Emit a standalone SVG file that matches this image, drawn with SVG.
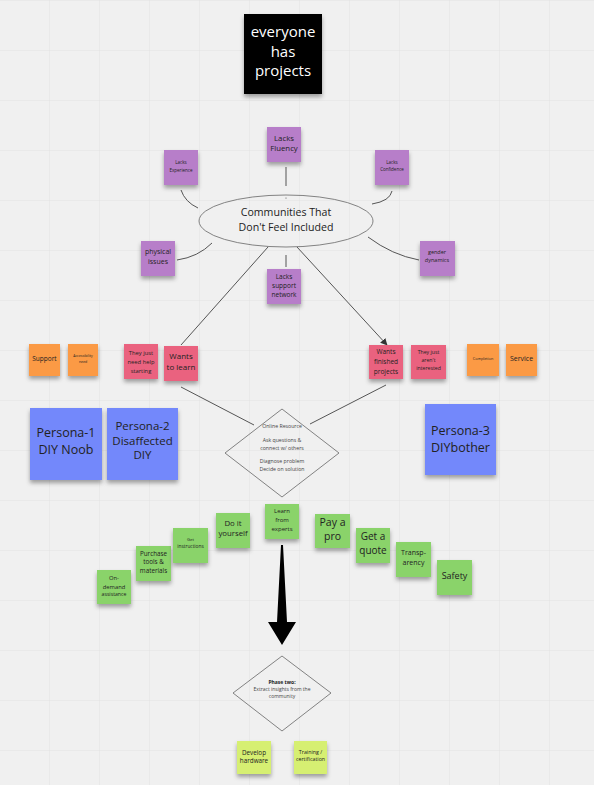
<svg xmlns="http://www.w3.org/2000/svg" width="594" height="785" viewBox="0 0 594 785">
<defs>
<pattern id="grid" x="-1" y="0" width="50" height="50" patternUnits="userSpaceOnUse">
<path d="M0 0H50M0 0V50" fill="none" stroke="#e1e1e1" stroke-width="1"/>
</pattern>
<filter id="sh" x="-20%" y="-20%" width="140%" height="160%">
<feDropShadow dx="0" dy="3" stdDeviation="2" flood-color="#000" flood-opacity="0.35"/>
</filter>
<marker id="ah" viewBox="0 0 10 10" refX="9" refY="5" markerWidth="7" markerHeight="7" orient="auto">
<path d="M0 0L10 5L0 10z" fill="#333"/>
</marker>
</defs>
<style>
text{font-family:"Open Sans","Noto Sans","Liberation Sans",sans-serif;fill:#222;text-anchor:middle;dominant-baseline:middle}
.purple{fill:#b77ec9;filter:url(#sh)}
.orange{fill:#fb9a44;filter:url(#sh)}
.pink{fill:#ea627f;filter:url(#sh)}
.blue{fill:#7388fb;filter:url(#sh)}
.green{fill:#8ad36b;filter:url(#sh)}
.lime{fill:#d6ef72;filter:url(#sh)}
.black{fill:#050505;filter:url(#sh)}
.shape{fill:none;stroke:#666;stroke-width:0.8}
.conn{fill:none;stroke:#555;stroke-width:1}
</style>
<rect width="594" height="785" fill="#f0f0f0"/>
<rect width="594" height="785" fill="url(#grid)"/>

<g id="connectors">
<line class="conn" x1="286" y1="167" x2="286" y2="186"/>
<circle cx="286" cy="198" r="0.6" fill="#555"/>
<path class="conn" d="M181 190 Q185 202 198 208"/>
<path class="conn" d="M392 191 Q390 201 372 204"/>
<path class="conn" d="M177 260 Q198 257 212 243"/>
<path class="conn" d="M368 237 Q392 255 419 260"/>
<line class="conn" x1="286" y1="255" x2="286" y2="267"/>
<line class="conn" x1="268" y1="247" x2="181" y2="345"/>
<line class="conn" x1="297" y1="247" x2="387" y2="345" marker-end="url(#ah)"/>
<line class="conn" x1="181" y1="387" x2="254" y2="425"/>
<line class="conn" x1="386" y1="385" x2="310" y2="424"/>
<polygon points="281,545 283,545 287,622 296,622 282,645 268,622 277,622" fill="#000"/>
</g>

<g id="everyone">
<rect class="black" x="244" y="14" width="78" height="80"/>
<text x="283" y="33" font-size="15" style="fill:#fff">everyone</text>
<text x="283" y="53" font-size="15" style="fill:#fff">has</text>
<text x="283" y="72" font-size="15" style="fill:#fff">projects</text>
</g>

<g id="communities">
<ellipse class="shape" cx="286" cy="221" rx="87" ry="26"/>
<text x="286" y="213" font-size="10.6">Communities That</text>
<text x="286" y="228" font-size="10.6">Don't Feel Included</text>
</g>

<g id="lacks-fluency">
<rect class="purple" x="267" y="127" width="34" height="35"/>
<text x="284" y="139" font-size="7.8">Lacks</text>
<text x="284" y="149" font-size="7.8">Fluency</text>
</g>
<g id="lacks-experience">
<rect class="purple" x="164" y="150" width="34" height="35"/>
<text x="181" y="163" font-size="4.5">Lacks</text>
<text x="181" y="171" font-size="4.5">Experience</text>
</g>
<g id="lacks-confidence">
<rect class="purple" x="375" y="150" width="34" height="35"/>
<text x="392" y="163" font-size="4.5">Lacks</text>
<text x="392" y="170" font-size="4.5">Confidence</text>
</g>
<g id="physical-issues">
<rect class="purple" x="141" y="241" width="34" height="35"/>
<text x="158" y="252" font-size="7">physical</text>
<text x="158" y="262" font-size="7">issues</text>
</g>
<g id="gender-dynamics">
<rect class="purple" x="420" y="241" width="35" height="35"/>
<text x="437" y="253" font-size="5.5">gender</text>
<text x="437" y="261" font-size="5.5">dynamics</text>
</g>
<g id="lacks-support">
<rect class="purple" x="267" y="269" width="34" height="35"/>
<text x="284" y="277" font-size="6.5">Lacks</text>
<text x="284" y="286" font-size="6.5">support</text>
<text x="284" y="295" font-size="6.5">network</text>
</g>

<g id="support">
<rect class="orange" x="29" y="344" width="31" height="32"/>
<text x="44.5" y="359" font-size="6.5">Support</text>
</g>
<g id="accessibility">
<rect class="orange" x="68" y="344" width="30" height="32"/>
<text x="83" y="356" font-size="3.5">Accessibility</text>
<text x="83" y="362" font-size="3.5">need</text>
</g>
<g id="completion">
<rect class="orange" x="467" y="344" width="32" height="32"/>
<text x="483" y="359" font-size="3.8">Completion</text>
</g>
<g id="service">
<rect class="orange" x="506" y="344" width="31" height="32"/>
<text x="521.5" y="359" font-size="7">Service</text>
</g>

<g id="need-help">
<rect class="pink" x="124" y="344" width="34" height="35"/>
<text x="141" y="353" font-size="5.8">They just</text>
<text x="141" y="362" font-size="5.8">need help</text>
<text x="141" y="371" font-size="5.8">starting</text>
</g>
<g id="wants-learn">
<rect class="pink" x="164" y="346" width="34" height="35"/>
<text x="181" y="357" font-size="8">Wants</text>
<text x="181" y="368" font-size="8">to learn</text>
</g>
<g id="wants-finished">
<rect class="pink" x="369" y="345" width="34" height="34"/>
<text x="386" y="352" font-size="6.5">Wants</text>
<text x="386" y="362" font-size="6.5">finished</text>
<text x="386" y="372" font-size="6.5">projects</text>
</g>
<g id="not-interested">
<rect class="pink" x="411" y="345" width="35" height="34"/>
<text x="428.5" y="353" font-size="5.2">They just</text>
<text x="428.5" y="361" font-size="5.2">aren't</text>
<text x="428.5" y="369" font-size="5.2">interested</text>
</g>

<g id="persona-1">
<rect class="blue" x="30" y="408" width="72" height="72"/>
<text x="66" y="434" font-size="12.5">Persona-1</text>
<text x="66" y="451" font-size="12.5">DIY Noob</text>
</g>
<g id="persona-2">
<rect class="blue" x="107" y="408" width="71" height="72"/>
<text x="142.5" y="427" font-size="11.5">Persona-2</text>
<text x="142.5" y="442" font-size="11.5">Disaffected</text>
<text x="142.5" y="456" font-size="11.5">DIY</text>
</g>
<g id="persona-3">
<rect class="blue" x="425" y="404" width="71" height="71"/>
<text x="460.5" y="432" font-size="12.5">Persona-3</text>
<text x="460.5" y="449" font-size="12.5">DIYbother</text>
</g>

<g id="online-resource">
<polygon class="shape" points="282,409 339,453 282,497 225,453"/>
<text x="282" y="427" font-size="5.2" style="fill:#444">Online Resource</text>
<text x="282" y="441" font-size="5.2" style="fill:#444">Ask questions &amp;</text>
<text x="282" y="449" font-size="5.2" style="fill:#444">connect w/ others</text>
<text x="282" y="462" font-size="5.2" style="fill:#444">Diagnose problem</text>
<text x="282" y="470" font-size="5.2" style="fill:#444">Decide on solution</text>
</g>

<g id="on-demand">
<rect class="green" x="97" y="570" width="34" height="34"/>
<text x="114" y="578" font-size="5.8">On-</text>
<text x="114" y="587" font-size="5.8">demand</text>
<text x="114" y="595" font-size="5.2">assistance</text>
</g>
<g id="purchase">
<rect class="green" x="136" y="546" width="35" height="35"/>
<text x="153.5" y="554" font-size="6.3">Purchase</text>
<text x="153.5" y="562" font-size="6.3">tools &amp;</text>
<text x="153.5" y="571" font-size="6.3">materials</text>
</g>
<g id="get-instructions">
<rect class="green" x="173" y="528" width="35" height="35"/>
<text x="190.5" y="540" font-size="4.2">Get</text>
<text x="190.5" y="547" font-size="4.8">instructions</text>
</g>
<g id="do-it">
<rect class="green" x="216" y="513" width="34" height="35"/>
<text x="233" y="524" font-size="7.8">Do it</text>
<text x="233" y="534" font-size="7.8">yourself</text>
</g>
<g id="learn-experts">
<rect class="green" x="265" y="504" width="34" height="35"/>
<text x="282" y="511" font-size="6">Learn</text>
<text x="282" y="520" font-size="6">from</text>
<text x="282" y="529" font-size="6">experts</text>
</g>
<g id="pay-pro">
<rect class="green" x="315" y="514" width="35" height="34"/>
<text x="332.5" y="523" font-size="10.5">Pay a</text>
<text x="332.5" y="537" font-size="10.5">pro</text>
</g>
<g id="get-quote">
<rect class="green" x="356" y="528" width="34" height="35"/>
<text x="373" y="537" font-size="10">Get a</text>
<text x="373" y="551" font-size="10">quote</text>
</g>
<g id="transparency">
<rect class="green" x="396" y="542" width="35" height="35"/>
<text x="413.5" y="553" font-size="7">Transp-</text>
<text x="413.5" y="563" font-size="7">arency</text>
</g>
<g id="safety">
<rect class="green" x="437" y="560" width="35" height="35"/>
<text x="454.5" y="577" font-size="9">Safety</text>
</g>

<g id="phase-two">
<polygon class="shape" points="282,656 331,693 282,731 233,693"/>
<text x="282" y="683" font-size="5" font-weight="bold">Phase two:</text>
<text x="282" y="690" font-size="5" style="fill:#444">Extract insights from the</text>
<text x="282" y="697" font-size="5" style="fill:#444">community</text>
</g>

<g id="develop-hardware">
<rect class="lime" x="237" y="741" width="34" height="33"/>
<text x="254" y="753" font-size="6.3">Develop</text>
<text x="254" y="761" font-size="6.3">hardware</text>
</g>
<g id="training">
<rect class="lime" x="294" y="741" width="33" height="33"/>
<text x="310.5" y="753" font-size="5.3">Training /</text>
<text x="310.5" y="760" font-size="5.3">certification</text>
</g>
</svg>
